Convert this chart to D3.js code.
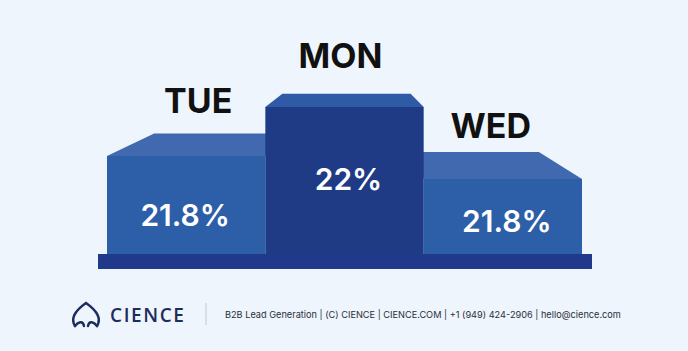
<!DOCTYPE html>
<html>
<head>
<meta charset="utf-8">
<script src="https://cdn.jsdelivr.net/npm/d3@7"></script>
<style>
    html, body { margin: 0; padding: 0; background: #eef5fd; }
    svg { display: block; }
</style>
</head>
<body>
<svg id="chart"></svg>
<script>
// chart data
const days = ["TUE", "MON", "WED"];
const shares = [21.8, 22, 21.8];
const places = [2, 1, 3];
const footerText = "B2B Lead Generation | (C) CIENCE | CIENCE.COM | +1 (949) 424-2906 | hello@cience.com";

const width = 688;
const height = 351;

const svg = d3.select("#chart")
    .attr("width", width)
    .attr("height", height);

svg.append("rect")
    .attr("width", width)
    .attr("height", height)
    .attr("fill", "#eef5fd");

// layout scales
const x = d3.scaleBand()
    .domain(days)
    .range([107, 582])
    .paddingInner(0);

const baseY = 254;
const barHeight = d3.scaleOrdinal()
    .domain([1, 2, 3])
    .range([147, 98, 75]);

// perspective for the top faces
const vp = [355, 37];
const depth = 0.19;
const toBack = ([px, py]) => [px + (vp[0] - px) * depth, py + (vp[1] - py) * depth];

const colors = {
    1: { front: "#1f3b86", top: "#2e5aa6" },
    2: { front: "#2d5ea8", top: "#4169b0" },
    3: { front: "#2d5ea8", top: "#4169b0" }
};

// small per-place nudges for the labels
const valueDy = { 1: 83, 2: 70, 3: 53 };
const valueDx = { 1: 4, 2: -1, 3: 4 };
const dayDy = { 1: 39, 2: 43, 3: 41 };
const dayDx = { 1: -4, 2: 12, 3: -12 };

const bars = days.map((d, i) => ({ day: d, share: shares[i], place: places[i] }));

// base slab
svg.append("rect")
    .attr("x", 98)
    .attr("y", baseY)
    .attr("width", 494)
    .attr("height", 15)
    .attr("fill", "#21398a");

// draw the winner last so it overlaps its neighbours
const order = bars.slice().sort((a, b) => b.place - a.place);

const g = svg.selectAll("g.bar")
    .data(order)
    .join("g")
    .attr("class", "bar");

g.append("path")
    .attr("fill", d => colors[d.place].top)
    .attr("d", d => {
        const x0 = x(d.day), x1 = x0 + x.bandwidth();
        const y0 = baseY - barHeight(d.place);
        const a = [x0, y0], b = [x1, y0];
        return d3.line()([a, b, toBack(b), toBack(a)]) + "Z";
    });

g.append("rect")
    .attr("x", d => x(d.day))
    .attr("y", d => baseY - barHeight(d.place))
    .attr("width", x.bandwidth())
    .attr("height", d => barHeight(d.place))
    .attr("fill", d => colors[d.place].front);

// value labels inside bars
g.append("text")
    .attr("x", d => x(d.day) + x.bandwidth() / 2 + valueDx[d.place])
    .attr("y", d => baseY - barHeight(d.place) + valueDy[d.place])
    .attr("text-anchor", "middle")
    .attr("fill", "#ffffff")
    .style("font-family", "Inter, 'Open Sans', sans-serif")
    .style("font-weight", 600)
    .style("font-size", "30px")
    .text(d => d.share + "%");

// day labels above bars
g.append("text")
    .attr("x", d => x(d.day) + x.bandwidth() / 2 + dayDx[d.place])
    .attr("y", d => baseY - barHeight(d.place) - dayDy[d.place])
    .attr("text-anchor", "middle")
    .attr("fill", "#111111")
    .style("font-family", "Inter, 'Open Sans', sans-serif")
    .style("font-weight", 700)
    .style("font-size", "34px")
    .text(d => d.day);

// footer logo
const logo = svg.append("g")
    .attr("fill", "none")
    .attr("stroke", "#1c2d5e")
    .attr("stroke-width", 2.4)
    .attr("stroke-linecap", "round");

logo.append("path")
    .attr("d", "M75,326 C70,318 76,310 86,303 C96,310 102,318 97,326");
logo.append("path")
    .attr("d", "M75,326 C78,322 83,320 84,326");
logo.append("path")
    .attr("d", "M97,326 C94,322 89,320 88,326");

svg.append("text")
    .attr("x", 110)
    .attr("y", 322)
    .attr("fill", "#1c2d5e")
    .style("font-family", "'Open Sans', sans-serif")
    .style("font-weight", 600)
    .style("font-size", "19px")
    .style("letter-spacing", "1.6px")
    .text("CIENCE");

svg.append("line")
    .attr("x1", 206).attr("x2", 206)
    .attr("y1", 303).attr("y2", 325)
    .attr("stroke", "#c3c8d0")
    .attr("stroke-width", 1);

svg.append("text")
    .attr("x", 225)
    .attr("y", 318)
    .attr("fill", "#2b2f38")
    .style("font-family", "Inter, sans-serif")
    .style("font-size", "9.2px")
    .text(footerText);
</script>
</body>
</html>
